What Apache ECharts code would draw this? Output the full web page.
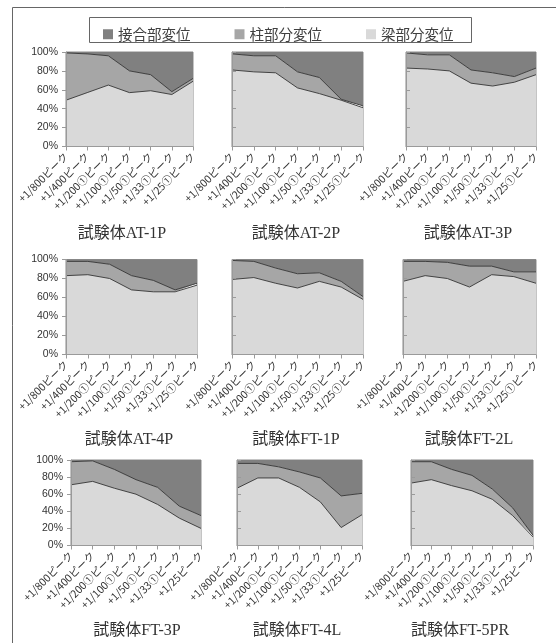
<!DOCTYPE html>
<html>
<head>
<meta charset="utf-8">
<script src="https://cdn.jsdelivr.net/npm/echarts@6/dist/echarts.min.js"></script>
<style>
  html, body { margin: 0; padding: 0; background: #fff; }
  #chart { width: 556px; height: 643px; }
</style>
</head>
<body>
<div id="chart"></div>
<script>
// Loading steps (category axis)
const stepsA = ['+1/800ピーク', '+1/400ピーク', '+1/200①ピーク', '+1/100①ピーク', '+1/50①ピーク', '+1/33①ピーク', '+1/25①ピーク'];
const stepsB = ['+1/800ピーク', '+1/400ピーク', '+1/200①ピーク', '+1/100①ピーク', '+1/50①ピーク', '+1/33①ピーク', '+1/25ピーク'];

const seriesNames = ['接合部変位', '柱部分変位', '梁部分変位'];
const yTicks = [0, 20, 40, 60, 80, 100];

// Share of each deformation component (%), per specimen
const beamAT1P  = [49, 57, 65, 57, 59, 55, 69];
const colAT1P   = [50, 41, 31, 23, 17, 3, 3];
const jointAT1P = [1, 2, 4, 20, 24, 42, 28];

const beamAT2P  = [81, 79, 78, 62, 56, 49, 41];
const colAT2P   = [17, 17, 18, 17, 17, 1, 2];
const jointAT2P = [2, 4, 4, 21, 27, 50, 57];

const beamAT3P  = [83, 82, 80, 67, 64, 68, 76];
const colAT3P   = [16, 15, 17, 14, 14, 6, 7];
const jointAT3P = [1, 3, 3, 19, 22, 26, 17];

const beamAT4P  = [83, 84, 80, 68, 66, 66, 73];
const colAT4P   = [15, 14, 15, 15, 12, 2, 2];
const jointAT4P = [2, 2, 5, 17, 22, 32, 25];

const beamFT1P  = [79, 81, 75, 70, 77, 71, 58];
const colFT1P   = [20, 17, 16, 15, 9, 6, 3];
const jointFT1P = [1, 2, 9, 15, 14, 23, 39];

const beamFT2L  = [77, 83, 80, 71, 84, 82, 75];
const colFT2L   = [21, 15, 17, 22, 9, 5, 12];
const jointFT2L = [2, 2, 3, 7, 7, 13, 13];

const beamFT3P  = [71, 75, 67, 60, 48, 32, 20];
const colFT3P   = [27, 24, 22, 17, 20, 14, 15];
const jointFT3P = [2, 1, 11, 23, 32, 54, 65];

const beamFT4L  = [67, 79, 79, 68, 51, 21, 36];
const colFT4L   = [29, 17, 13, 18, 28, 37, 25];
const jointFT4L = [4, 4, 8, 14, 21, 42, 39];

const beamFT5PR  = [73, 77, 70, 64, 54, 35, 10];
const colFT5PR   = [25, 21, 19, 18, 12, 9, 2];
const jointFT5PR = [2, 2, 11, 18, 34, 56, 88];

const specimens = [
  { name: '試験体AT-1P',  cats: stepsA, beam: beamAT1P,  col: colAT1P,  joint: jointAT1P },
  { name: '試験体AT-2P',  cats: stepsA, beam: beamAT2P,  col: colAT2P,  joint: jointAT2P },
  { name: '試験体AT-3P',  cats: stepsA, beam: beamAT3P,  col: colAT3P,  joint: jointAT3P },
  { name: '試験体AT-4P',  cats: stepsA, beam: beamAT4P,  col: colAT4P,  joint: jointAT4P },
  { name: '試験体FT-1P',  cats: stepsA, beam: beamFT1P,  col: colFT1P,  joint: jointFT1P },
  { name: '試験体FT-2L',  cats: stepsA, beam: beamFT2L,  col: colFT2L,  joint: jointFT2L },
  { name: '試験体FT-3P',  cats: stepsB, beam: beamFT3P,  col: colFT3P,  joint: jointFT3P },
  { name: '試験体FT-4L',  cats: stepsB, beam: beamFT4L,  col: colFT4L,  joint: jointFT4L },
  { name: '試験体FT-5PR', cats: stepsB, beam: beamFT5PR, col: colFT5PR, joint: jointFT5PR }
];

// Plot-area placement of each small chart and its caption
const layout = [
  { left: 66,  top: 52,  width: 127, height: 94.5, tx: 117, ty: 232 },
  { left: 232, top: 52,  width: 131, height: 94.5, tx: 291, ty: 232 },
  { left: 406, top: 52,  width: 130, height: 94.5, tx: 463, ty: 232 },
  { left: 66,  top: 259.5, width: 131, height: 95, tx: 124, ty: 438 },
  { left: 232, top: 259.5, width: 131, height: 95, tx: 291, ty: 438 },
  { left: 403, top: 259.5, width: 133, height: 95, tx: 464, ty: 438 },
  { left: 71,  top: 460, width: 130, height: 85.5, tx: 132, ty: 629 },
  { left: 237, top: 460, width: 125, height: 85.5, tx: 292, ty: 629 },
  { left: 411, top: 460, width: 122, height: 85.5, tx: 455, ty: 629 }
];

const colors = { joint: '#808080', col: '#a6a6a6', beam: '#d9d9d9' };
const axisGray = '#9a9a9a';
const jpFont = "'Noto Sans CJK JP', sans-serif";
const titleFont = "'Liberation Serif', 'Noto Sans CJK JP', serif";

const grids = [], xAxes = [], yAxes = [], series = [], titles = [];

specimens.forEach((sp, i) => {
  const L = layout[i];
  const showY = (i % 3) === 0;
  grids.push({
    left: L.left, top: L.top, width: L.width, height: L.height,
    show: true, borderColor: '#8a8a8a', borderWidth: 1, backgroundColor: 'transparent'
  });
  xAxes.push({
    type: 'category', gridIndex: i, data: sp.cats, boundaryGap: false,
    axisLine: { show: true, lineStyle: { color: axisGray, width: 1 } },
    axisTick: { show: true, length: 4, lineStyle: { color: axisGray } },
    axisLabel: {
      interval: 0, rotate: 45, margin: 8, fontSize: 10.5,
      color: '#333', fontFamily: jpFont
    },
    splitLine: { show: false }, z: 5
  });
  yAxes.push({
    type: 'value', gridIndex: i, min: yTicks[0], max: yTicks[yTicks.length - 1], interval: 20,
    axisLine: { show: true, lineStyle: { color: axisGray, width: 1 } },
    axisTick: { show: true, length: 4, inside: !showY, lineStyle: { color: axisGray } },
    axisLabel: {
      show: showY, formatter: '{value}%', fontSize: 10.5, margin: 8,
      color: '#333', fontFamily: "'Liberation Sans', 'Noto Sans', sans-serif"
    },
    splitLine: { show: false }, z: 5
  });
  const stack = 'g' + i;
  const common = {
    type: 'line', xAxisIndex: i, yAxisIndex: i, stack: stack,
    symbol: 'none', silent: true, animation: false
  };
  series.push(Object.assign({}, common, {
    name: seriesNames[2], data: sp.beam,
    lineStyle: { color: '#333', width: 0.9 },
    areaStyle: { color: colors.beam, opacity: 1 },
    itemStyle: { color: colors.beam }
  }));
  series.push(Object.assign({}, common, {
    name: seriesNames[1], data: sp.col,
    lineStyle: { color: '#333', width: 0.9 },
    areaStyle: { color: colors.col, opacity: 1 },
    itemStyle: { color: colors.col }
  }));
  series.push(Object.assign({}, common, {
    name: seriesNames[0], data: sp.joint,
    lineStyle: { width: 0 },
    areaStyle: { color: colors.joint, opacity: 1 },
    itemStyle: { color: colors.joint }
  }));
  titles.push({
    text: sp.name, left: L.tx, top: L.ty - 11, textAlign: 'center',
    textStyle: { fontSize: 16, fontWeight: 'normal', color: '#333', fontFamily: titleFont }
  });
});

const chart = echarts.init(document.getElementById('chart'), null, { renderer: 'canvas' });
chart.setOption({
  backgroundColor: '#fff',
  animation: false,
  title: titles,
  legend: {
    data: seriesNames, left: 98, top: 22,
    icon: 'rect', itemWidth: 10, itemHeight: 10, itemGap: 44, itemSpacing: 3,
    selectedMode: false,
    textStyle: { fontSize: 14.5, color: '#404040', fontFamily: jpFont }
  },
  grid: grids,
  xAxis: xAxes,
  yAxis: yAxes,
  series: series,
  graphic: [
    // outer frame (top and left edges)
    { type: 'polyline', silent: true, shape: { points: [[12.5, 643], [12.5, 7.5], [556, 7.5]] },
      style: { stroke: '#666', lineWidth: 1, fill: null } },
    // legend box
    { type: 'rect', silent: true, shape: { x: 89.5, y: 17.5, width: 382, height: 25 },
      style: { stroke: '#666', lineWidth: 1, fill: 'transparent' } }
  ]
});
</script>
</body>
</html>
